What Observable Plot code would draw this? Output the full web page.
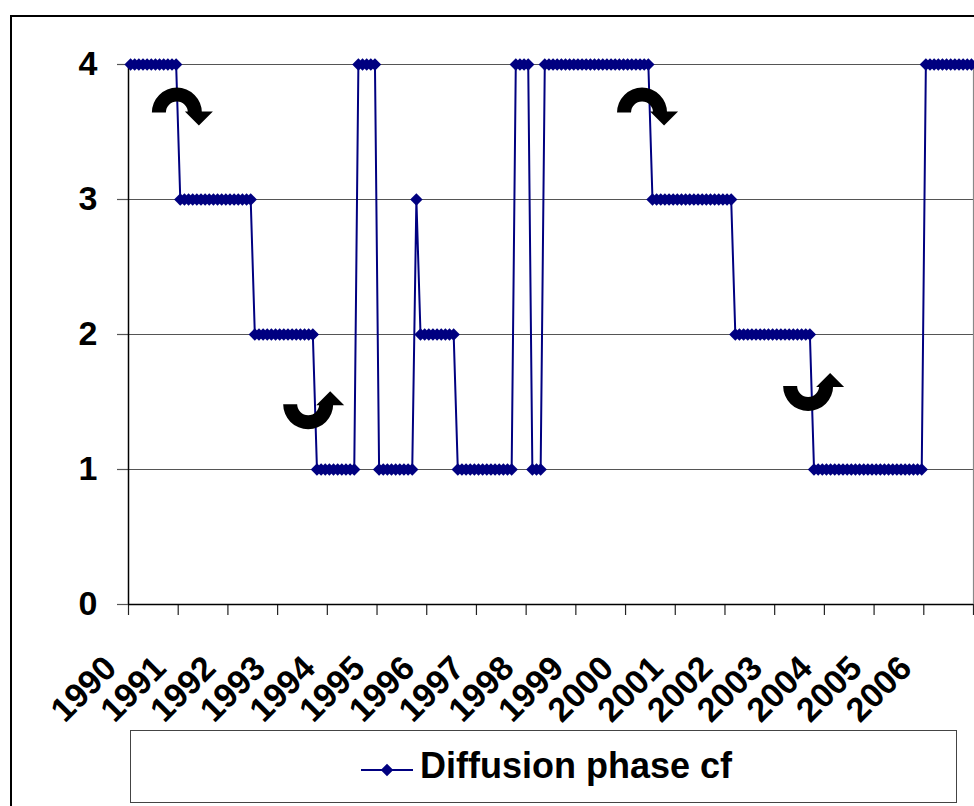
<!DOCTYPE html>
<html>
<head>
<meta charset="utf-8">
<script src="https://cdn.jsdelivr.net/npm/d3@7"></script>
<script src="https://cdn.jsdelivr.net/npm/@observablehq/plot@0.6"></script>
<style>
  html, body { margin: 0; padding: 0; background: #fff; }
  #wrap { position: relative; width: 974px; height: 806px; overflow: hidden; background: #fff;
          font-family: "Liberation Sans", Arial, sans-serif; }
  #chart { position: absolute; left: 0; top: 0; }
  #legend { position: absolute; left: 130px; top: 730px; width: 827px; height: 73px;
            box-sizing: border-box; border: 1.5px solid #444; background: #fff; }
  #legend svg { position: absolute; left: 228px; top: 27px; }
  #legend span { position: absolute; left: 289px; top: 15px; font-size: 36px; font-weight: bold;
                 color: #000; white-space: nowrap; line-height: 40px; }
  #frame { position: absolute; left: 10px; top: 15px; width: 1000px; height: 1000px;
           border-left: 2px solid #000; border-top: 2px solid #000; pointer-events: none; }
</style>
</head>
<body>
<div id="wrap">
  <div id="chart"></div>
  <div id="legend"></div>
  <div id="frame"></div>
</div>
<script>
// Monthly values, Jan 1990 .. Dec 2006 (one row per year)
const phase1990 = [4,4,4,4,4,4,4,4,4,4,4,4];
const phase1991 = [3,3,3,3,3,3,3,3,3,3,3,3];
const phase1992 = [3,3,3,3,3,3,2,2,2,2,2,2];
const phase1993 = [2,2,2,2,2,2,2,2,2,1,1,1];
const phase1994 = [1,1,1,1,1,1,1,4,4,4,4,4];
const phase1995 = [1,1,1,1,1,1,1,1,1,3,2,2];
const phase1996 = [2,2,2,2,2,2,2,1,1,1,1,1];
const phase1997 = [1,1,1,1,1,1,1,1,1,4,4,4];
const phase1998 = [4,1,1,1,4,4,4,4,4,4,4,4];
const phase1999 = [4,4,4,4,4,4,4,4,4,4,4,4];
const phase2000 = [4,4,4,4,4,4,3,3,3,3,3,3];
const phase2001 = [3,3,3,3,3,3,3,3,3,3,3,3];
const phase2002 = [3,3,2,2,2,2,2,2,2,2,2,2];
const phase2003 = [2,2,2,2,2,2,2,2,2,1,1,1];
const phase2004 = [1,1,1,1,1,1,1,1,1,1,1,1];
const phase2005 = [1,1,1,1,1,1,1,1,1,1,1,1];
const phase2006 = [4,4,4,4,4,4,4,4,4,4,4,4];

const yearLabels = ["1990","1991","1992","1993","1994","1995","1996","1997","1998",
                    "1999","2000","2001","2002","2003","2004","2005","2006"];
const yTicks = [0, 1, 2, 3, 4];
const seriesName = "Diffusion phase cf";

// Curved-arrow annotations (month index, phase value, orientation)
const arrowX = [11.3, 43.0, 123.6, 163.7];
const arrowY = [3.64, 1.48, 3.64, 1.615];
const arrowDir = ["over", "under", "over", "under"];

const values = [].concat(phase1990, phase1991, phase1992, phase1993, phase1994, phase1995,
  phase1996, phase1997, phase1998, phase1999, phase2000, phase2001, phase2002, phase2003,
  phase2004, phase2005, phase2006);
const n = values.length;
const monthsPerLabel = 12;
const tickPositions = d3.range(0, n / monthsPerLabel + 1).map(k => k * monthsPerLabel - 0.5);

const NAVY = "#000080";
const arrows = arrowX.map((x, i) => ({x, y: arrowY[i], dir: arrowDir[i]}));

function arrowMark(index, scales) {
  const g = d3.create("svg:g");
  const R = 25, r = 11;
  for (const a of arrows) {
    const cx = scales.x(a.x), cy = scales.y(a.y);
    const flip = a.dir === "under" ? -1 : 1;
    const ag = g.append("g").attr("transform", `translate(${cx},${cy}) scale(1,${flip})`);
    ag.append("path")
      .attr("d", `M${-R},0 A${R},${R} 0 0 1 ${R},0 L${r},0 A${r},${r} 0 0 0 ${-r},0 Z`)
      .attr("fill", "#000");
    ag.append("path")
      .attr("d", `M${r - 3},-1 L${R + 11},-1 L${R - 3},13 Z`)
      .attr("fill", "#000");
  }
  return g.node();
}

const H = 728;
const chart = Plot.plot({
  width: 974,
  height: H,
  marginLeft: 128,
  marginRight: 1,
  marginTop: 64,
  marginBottom: H - 604,
  style: {fontFamily: "'Liberation Sans', Arial, sans-serif", background: "#fff", color: "#000", overflow: "visible"},
  x: {domain: [-0.5, n - 0.5], axis: null},
  y: {domain: [0, 4], axis: null},
  marks: [
    Plot.ruleY([1, 2, 3, 4], {stroke: "#555", strokeWidth: 1}),
    Plot.ruleX([n - 0.5], {y1: 0, y2: 4, stroke: "#888", strokeWidth: 1.2}),
    Plot.axisX({ticks: tickPositions, tickSize: 11, tickFormat: () => "", stroke: "#222", strokeWidth: 1.2}),
    Plot.axisY({ticks: yTicks, tickSize: 11, tickPadding: 20, stroke: "#555", strokeWidth: 1.2,
                fontSize: 34, fontWeight: "bold", fill: "#000", tickFormat: d => String(d)}),
    Plot.ruleX([-0.5], {y1: 0, y2: 4, stroke: "#000", strokeWidth: 1.5}),
    Plot.ruleY([0], {stroke: "#000", strokeWidth: 1.5}),
    Plot.line(values, {x: (d, i) => i, y: d => d, stroke: NAVY, strokeWidth: 2}),
    Plot.dot(values, {x: (d, i) => i, y: d => d, symbol: "diamond2", r: 5.6, fill: NAVY, stroke: "none"}),
    Plot.text(yearLabels, {x: (d, i) => i * monthsPerLabel, y: 0, text: d => d, rotate: -45,
                           textAnchor: "end", lineAnchor: "middle", dx: -20, dy: 58,
                           fontSize: 34, fontWeight: "bold", fill: "#000"}),
    arrowMark
  ]
});
document.getElementById("chart").appendChild(chart);

// Legend
const legend = d3.select("#legend");
const sw = legend.append("svg").attr("width", 56).attr("height", 24);
sw.append("line").attr("x1", 2).attr("x2", 54).attr("y1", 12).attr("y2", 12)
  .attr("stroke", NAVY).attr("stroke-width", 2);
sw.append("path").attr("d", d3.symbol(d3.symbolDiamond2, 100)()).attr("transform", "translate(28,12)")
  .attr("fill", NAVY);
legend.append("span").text(seriesName);
</script>
</body>
</html>
